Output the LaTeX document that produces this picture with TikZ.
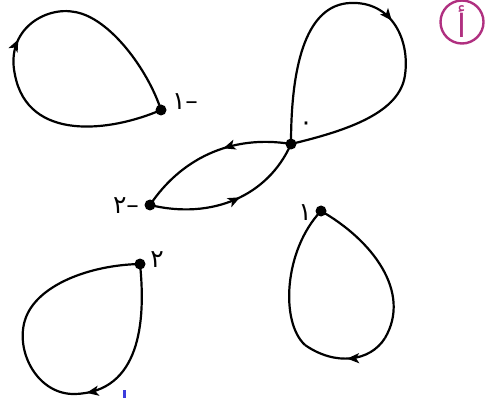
\documentclass[tikz,border=0pt]{standalone}
\usepackage{fontspec}
\newfontfamily\arabicfont[Script=Arabic]{DejaVu Sans}
\newfontfamily\digitfont{DejaVu Sans}
\usetikzlibrary{arrows.meta,decorations.markings}
\definecolor{magentaA}{RGB}{176,48,128}
\definecolor{markblue}{RGB}{60,60,220}
\tikzset{
  curve/.style={line width=2.2pt, black},
  arrowat/.style={postaction={decorate}, decoration={markings, mark=at position #1 with {\arrow{Stealth[length=12pt,width=10pt,inset=3pt]}}}},
  vertex/.style={circle, fill=black, inner sep=0pt, minimum size=11pt},
  lbl/.style={font=\digitfont\fontsize{25}{25}\selectfont, inner sep=0pt}
}
\begin{document}
\begin{tikzpicture}[x=1pt,y=-1pt]
\useasboundingbox (0,0) rectangle (495,398);
% vertices
\node[vertex] (m1) at (161,110) {};
\node[vertex] (z) at (291,144) {};
\node[vertex] (m2) at (150,205) {};
\node[vertex] (p1) at (321,211) {};
\node[vertex] (p2) at (140,264) {};
% labels
\node[lbl] (lm1) at (185,102) {١–};
\node[lbl] (lm2) at (126,206) {٢–};
\node[lbl] (lp2) at (157,260) {٢};
\node[lbl] (lp1) at (305,213) {١};
\node[lbl] (lz) at (306,126) {٠};
% loop at -1
\draw[curve] (m1.center) .. controls (110,132) and (28,142) .. (15,75);
\draw[curve, arrowat=0.35] (15,75) .. controls (5,30) and (45,6) .. (75,12);
\draw[curve] (75,12) .. controls (110,18) and (148,70) .. (m1.center);
% loop at 0
\draw[curve] (z.center) .. controls (291,60) and (308,5) .. (350,3);
\draw[curve, arrowat=0.45] (350,3) .. controls (392,1) and (410,40) .. (405,75);
\draw[curve] (405,75) .. controls (400,112) and (350,130) .. (z.center);
% lens between 0 and -2
\draw[curve, arrowat=0.42] (z.center) .. controls (230,134) and (180,160) .. (m2.center);
\draw[curve, arrowat=0.55] (m2.center) .. controls (212,220) and (268,196) .. (z.center);
% loop at 1
\draw[curve] (p1.center) .. controls (372,240) and (412,292) .. (385,338);
\draw[curve, arrowat=0.5] (385,338) .. controls (370,362) and (335,366) .. (305,345);
\draw[curve] (305,345) .. controls (280,322) and (284,250) .. (p1.center);
% loop at 2
\draw[curve, arrowat=0.93] (p2.center) .. controls (146,322) and (140,392) .. (75,394);
\draw[curve] (75,394) .. controls (38,395) and (15,352) .. (25,320);
\draw[curve] (25,320) .. controls (36,285) and (90,265) .. (p2.center);
% badge
\node[draw=magentaA, line width=2.4pt, circle, minimum size=43pt, inner sep=0pt,
      text=magentaA, font=\arabicfont\fontsize{32}{32}\selectfont] (badge) at (462,22) {أ};
% blue fragment at bottom edge
\fill[markblue] (122.5,390) rectangle (125.5,398);
\end{tikzpicture}
\end{document}
